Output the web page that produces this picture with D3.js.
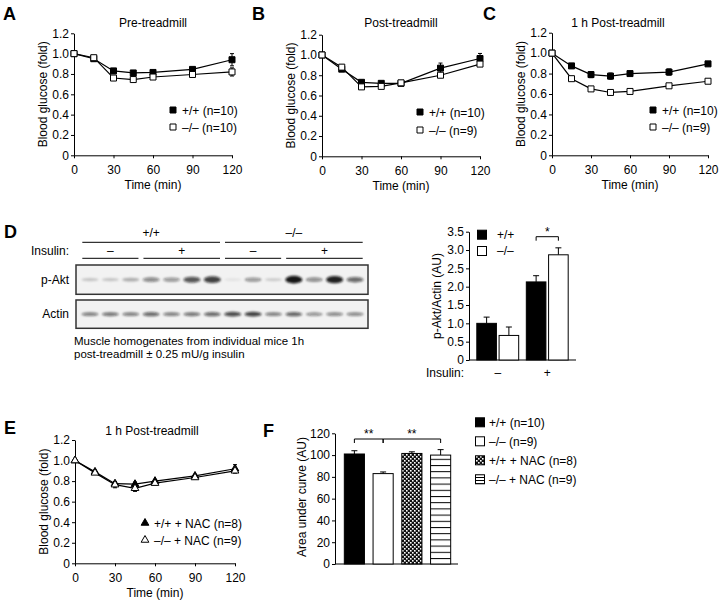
<!DOCTYPE html>
<html>
<head>
<meta charset="utf-8">
<script src="https://cdn.jsdelivr.net/npm/d3@7"></script>
<style>
body { margin: 0; background: #fff; }
svg { font-family: "Liberation Sans", Arial, sans-serif; }
</style>
</head>
<body>
<svg id="fig" width="722" height="602"></svg>
<script>
// ---- data ----
var timePoints = [0, 15, 30, 45, 60, 90, 120];
var timeTicks = [0, 30, 60, 90, 120];
var glucoseTicks = [0, 0.2, 0.4, 0.6, 0.8, 1.0, 1.2];

// A  pre-treadmill
var preWT = [1.0, 0.95, 0.83, 0.81, 0.815, 0.845, 0.94];
var preWTErr = [0.01, 0.02, 0.02, 0.02, 0.015, 0.02, 0.06];
var preKO = [1.0, 0.96, 0.76, 0.745, 0.77, 0.795, 0.82];
var preKOErr = [0.01, 0.02, 0.02, 0.02, 0.015, 0.02, 0.04];

// B  post-treadmill
var postWT = [1.0, 0.86, 0.73, 0.72, 0.72, 0.87, 0.965];
var postWTErr = [0.01, 0.02, 0.02, 0.02, 0.01, 0.05, 0.05];
var postKO = [1.0, 0.88, 0.685, 0.69, 0.725, 0.80, 0.91];
var postKOErr = [0.01, 0.02, 0.02, 0.02, 0.01, 0.015, 0.02];

// C  1 h post-treadmill
var hourWT = [1.0, 0.875, 0.79, 0.775, 0.80, 0.815, 0.895];
var hourWTErr = [0.01, 0.02, 0.03, 0.03, 0.02, 0.03, 0.015];
var hourKO = [1.0, 0.75, 0.65, 0.615, 0.625, 0.68, 0.725];
var hourKOErr = [0.01, 0.01, 0.01, 0.01, 0.01, 0.01, 0.01];

// E  1 h post-treadmill + NAC
var nacWT = [1.0, 0.89, 0.775, 0.77, 0.80, 0.85, 0.92];
var nacWTErr = [0.01, 0.015, 0.02, 0.02, 0.015, 0.015, 0.04];
var nacKO = [1.0, 0.88, 0.765, 0.73, 0.78, 0.835, 0.90];
var nacKOErr = [0.01, 0.015, 0.03, 0.03, 0.015, 0.015, 0.02];

// D  blot
var blotGenotypes = ["+/+", "–/–"];
var blotInsulin = ["–", "+", "–", "+"];
var blotLanesPerGroup = [3, 4, 3, 4];
var pAktBands = [0.15, 0.15, 0.25, 0.45, 0.38, 0.7, 0.8, 0.02, 0.38, 0.12, 1.0, 0.42, 0.95, 0.6];
var actinBands = [0.5, 0.55, 0.5, 0.6, 0.5, 0.55, 0.6, 0.75, 0.8, 0.5, 0.62, 0.4, 0.45, 0.45];

// D  quantification
var insulinGroups = ["–", "+"];
var genotypes = ["+/+", "–/–"];
var pAktMean = [[1.0, 0.67], [2.13, 2.87]];
var pAktErr = [[0.17, 0.23], [0.17, 0.19]];
var pAktTicks = [0, 0.5, 1.0, 1.5, 2.0, 2.5, 3.0, 3.5];

// F  area under curve
var aucGroups = ["+/+ (n=10)", "–/– (n=9)", "+/+ + NAC (n=8)", "–/– + NAC (n=9)"];
var aucMean = [101, 83, 101.5, 100];
var aucErr = [3, 1.5, 1.5, 5];
var aucTicks = [0, 20, 40, 60, 80, 100, 120];

var svg = d3.select("#fig");

// patterns
var defs = svg.append("defs");
var chk = defs.append("pattern").attr("id", "checker")
    .attr("patternUnits", "userSpaceOnUse").attr("width", 4).attr("height", 4);
chk.append("rect").attr("width", 4).attr("height", 4).attr("fill", "#111");
chk.append("rect").attr("x", 0).attr("y", 0).attr("width", 1.6).attr("height", 1.6).attr("fill", "#fff");
chk.append("rect").attr("x", 2).attr("y", 2).attr("width", 1.6).attr("height", 1.6).attr("fill", "#fff");

function stripePattern(id, h) {
    var p = defs.append("pattern").attr("id", id)
        .attr("patternUnits", "userSpaceOnUse").attr("width", 8).attr("height", h);
    p.append("rect").attr("width", 8).attr("height", h).attr("fill", "#fff");
    p.append("rect").attr("y", 0).attr("width", 8).attr("height", 1).attr("fill", "#000");
}
stripePattern("stripes", 6.2);
stripePattern("stripesSmall", 3);

var blur = defs.append("filter").attr("id", "blur")
    .attr("x", "-50%").attr("y", "-100%").attr("width", "200%").attr("height", "300%");
blur.append("feGaussianBlur").attr("stdDeviation", 0.9);

function styleAxis(g) {
    g.attr("font-size", 12).attr("font-family", null);
    g.selectAll("text").attr("fill", "#000");
    g.selectAll("line,path").attr("stroke", "#000");
}

function panelLetter(txt, x, y) {
    svg.append("text").attr("x", x).attr("y", y)
        .attr("font-size", 18).attr("font-weight", "bold").text(txt);
}

function drawMarker(g, type, filled, cx, cy) {
    var sym = type == "square" ? d3.symbolSquare : d3.symbolTriangle;
    var size = type == "square" ? 36 : 26;
    g.append("path")
        .attr("d", d3.symbol().type(sym).size(size)())
        .attr("transform", "translate(" + cx + "," + cy + ")")
        .attr("fill", filled ? "#000" : "#fff")
        .attr("stroke", "#000")
        .attr("stroke-width", 1);
}

// ---- glucose time course panels ----
function glucosePanel(cfg) {
    var x = d3.scaleLinear().domain([0, 120]).range([cfg.x0, cfg.x1]);
    var y = d3.scaleLinear().domain([0, 1.2]).range([cfg.y0, cfg.yTop]);
    var g = svg.append("g");

    g.append("g")
        .attr("transform", "translate(0," + cfg.y0 + ")")
        .call(d3.axisBottom(x).tickValues(timeTicks).tickSize(3).tickPadding(7).tickSizeOuter(0))
        .call(styleAxis);

    g.append("g")
        .attr("transform", "translate(" + cfg.x0 + ",0)")
        .call(d3.axisLeft(y).tickValues(glucoseTicks).tickSize(3).tickPadding(2).tickSizeOuter(0)
            .tickFormat(function(d) { return d === 0 ? "0" : d.toFixed(1); }))
        .call(styleAxis);

    g.append("text")
        .attr("transform", "translate(" + (cfg.x0 - 31) + "," + ((cfg.y0 + cfg.yTop) / 2) + ") rotate(-90)")
        .attr("text-anchor", "middle").attr("dy", "0.35em")
        .attr("font-size", 12).text("Blood glucose (fold)");

    g.append("text")
        .attr("x", (cfg.x0 + cfg.x1) / 2).attr("y", cfg.y0 + 34)
        .attr("text-anchor", "middle").attr("font-size", 12).text("Time (min)");

    g.append("text")
        .attr("x", cfg.titleX).attr("y", cfg.titleY)
        .attr("text-anchor", "middle").attr("font-size", 12).text(cfg.title);

    var line = d3.line()
        .x(function(d, i) { return x(timePoints[i]); })
        .y(function(d) { return y(d); });

    cfg.series.forEach(function(s) {
        g.append("path").datum(s.values)
            .attr("d", line).attr("fill", "none")
            .attr("stroke", "#000").attr("stroke-width", 1.2);
    });

    cfg.series.forEach(function(s) {
        s.values.forEach(function(v, i) {
            var cx = x(timePoints[i]);
            var e = s.errors[i];
            g.append("line").attr("x1", cx).attr("x2", cx)
                .attr("y1", y(v - e)).attr("y2", y(v + e)).attr("stroke", "#000");
            [v - e, v + e].forEach(function(w) {
                g.append("line").attr("x1", cx - 2).attr("x2", cx + 2)
                    .attr("y1", y(w)).attr("y2", y(w)).attr("stroke", "#000");
            });
        });
    });

    cfg.series.forEach(function(s) {
        s.values.forEach(function(v, i) {
            drawMarker(g, s.marker, s.filled, x(timePoints[i]), y(v));
        });
    });

    // legend
    cfg.series.forEach(function(s, i) {
        var ly = cfg.legendY + i * cfg.legendStep;
        drawMarker(g, s.marker, s.filled, cfg.legendX, ly);
        g.append("text").attr("x", cfg.legendX + 9).attr("y", ly + 4.5)
            .attr("font-size", 12).text(s.label);
    });
}

panelLetter("A", 3, 20);
glucosePanel({
    x0: 74, x1: 232, y0: 155.3, yTop: 33.3,
    title: "Pre-treadmill", titleX: 153, titleY: 27,
    legendX: 173, legendY: 110, legendStep: 17,
    series: [
        { values: preWT, errors: preWTErr, marker: "square", filled: true, label: "+/+ (n=10)" },
        { values: preKO, errors: preKOErr, marker: "square", filled: false, label: "–/– (n=10)" }
    ]
});

panelLetter("B", 252, 20);
glucosePanel({
    x0: 322, x1: 480, y0: 156.3, yTop: 34.7,
    title: "Post-treadmill", titleX: 401, titleY: 27,
    legendX: 420, legendY: 112, legendStep: 18,
    series: [
        { values: postWT, errors: postWTErr, marker: "square", filled: true, label: "+/+ (n=10)" },
        { values: postKO, errors: postKOErr, marker: "square", filled: false, label: "–/– (n=9)" }
    ]
});

panelLetter("C", 483, 20);
glucosePanel({
    x0: 552, x1: 708, y0: 155.3, yTop: 32.7,
    title: "1 h Post-treadmill", titleX: 618, titleY: 27,
    legendX: 653, legendY: 110, legendStep: 17,
    series: [
        { values: hourWT, errors: hourWTErr, marker: "square", filled: true, label: "+/+ (n=10)" },
        { values: hourKO, errors: hourKOErr, marker: "square", filled: false, label: "–/– (n=9)" }
    ]
});

panelLetter("E", 4, 434);
glucosePanel({
    x0: 75, x1: 235, y0: 563.3, yTop: 440,
    title: "1 h Post-treadmill", titleX: 152, titleY: 435,
    legendX: 145, legendY: 523, legendStep: 17,
    series: [
        { values: nacWT, errors: nacWTErr, marker: "triangle", filled: true, label: "+/+ + NAC (n=8)" },
        { values: nacKO, errors: nacKOErr, marker: "triangle", filled: false, label: "–/– + NAC (n=9)" }
    ]
});

// ---- D: western blot ----
panelLetter("D", 4, 238);
var laneX = d3.scalePoint().domain(d3.range(14)).range([90, 355]);
var halfStep = laneX.step() / 2 - 2.5;
var blot = svg.append("g");

var start = 0;
var groupSpans = blotLanesPerGroup.map(function(n) {
    var span = [laneX(start) - halfStep, laneX(start + n - 1) + halfStep];
    start += n;
    return span;
});

blotInsulin.forEach(function(lbl, i) {
    var s = groupSpans[i];
    blot.append("line").attr("x1", s[0]).attr("x2", s[1]).attr("y1", 258.3).attr("y2", 258.3)
        .attr("stroke", "#000").attr("stroke-width", 1);
    blot.append("text").attr("x", (s[0] + s[1]) / 2).attr("y", 255)
        .attr("text-anchor", "middle").attr("font-size", 12).text(lbl);
});
blotGenotypes.forEach(function(lbl, i) {
    var a = groupSpans[i * 2][0], b = groupSpans[i * 2 + 1][1];
    blot.append("line").attr("x1", a).attr("x2", b).attr("y1", 242.3).attr("y2", 242.3)
        .attr("stroke", "#000").attr("stroke-width", 1);
    blot.append("text").attr("x", (a + b) / 2).attr("y", 237)
        .attr("text-anchor", "middle").attr("font-size", 12).text(lbl);
});
blot.append("text").attr("x", 69).attr("y", 255).attr("text-anchor", "end")
    .attr("font-size", 12).text("Insulin:");

function blotStrip(label, y0, y1, bands, thick) {
    blot.append("rect").attr("x", 76).attr("y", y0).attr("width", 292).attr("height", y1 - y0)
        .attr("fill", "#f2f2f2").attr("stroke", "#333").attr("stroke-width", 1.5);
    var cy = (y0 + y1) / 2;
    blot.append("g").attr("filter", "url(#blur)")
        .selectAll("ellipse").data(bands).enter().append("ellipse")
        .attr("cx", function(d, i) { return laneX(i); })
        .attr("cy", cy)
        .attr("rx", 8.5)
        .attr("ry", function(d) { return 1.2 + thick * d; })
        .attr("fill", "#111")
        .attr("fill-opacity", function(d) { return 0.06 + 0.9 * d; });
    blot.append("text").attr("x", 69).attr("y", cy + 4).attr("text-anchor", "end")
        .attr("font-size", 12).text(label);
}
blotStrip("p-Akt", 265, 294.3, pAktBands, 2.6);
blotStrip("Actin", 300, 328.3, actinBands, 1.5);

blot.append("text").attr("x", 74).attr("y", 345).attr("font-size", 11.5)
    .text("Muscle homogenates from individual mice 1h");
blot.append("text").attr("x", 74).attr("y", 358).attr("font-size", 11.5)
    .text("post-treadmill ± 0.25 mU/g insulin");

// ---- D: quantification bars ----
var dg = svg.append("g");
var dY = d3.scaleLinear().domain([0, 3.5]).range([360, 231.7]);
var dX = d3.scaleBand().domain(insulinGroups).range([473, 572]).paddingInner(0.1).paddingOuter(0.05);
var dX1 = d3.scaleBand().domain(genotypes).range([0, dX.bandwidth()]).paddingInner(0.12).paddingOuter(0.06);

dg.append("g").attr("transform", "translate(469,0)")
    .call(d3.axisLeft(dY).tickValues(pAktTicks).tickSize(3).tickPadding(2).tickSizeOuter(0)
        .tickFormat(function(d) { return d === 0 ? "0" : d.toFixed(1); }))
    .call(styleAxis);
dg.append("line").attr("x1", 469).attr("x2", 576).attr("y1", 360).attr("y2", 360).attr("stroke", "#000");

insulinGroups.forEach(function(grp, gi) {
    genotypes.forEach(function(gt, j) {
        var bx = dX(grp) + dX1(gt), bw = dX1.bandwidth();
        var m = pAktMean[gi][j], e = pAktErr[gi][j];
        var cx = bx + bw / 2;
        dg.append("line").attr("x1", cx).attr("x2", cx).attr("y1", dY(m)).attr("y2", dY(m + e)).attr("stroke", "#000");
        dg.append("line").attr("x1", cx - 3).attr("x2", cx + 3).attr("y1", dY(m + e)).attr("y2", dY(m + e)).attr("stroke", "#000");
        dg.append("rect").attr("x", bx).attr("y", dY(m)).attr("width", bw).attr("height", dY(0) - dY(m))
            .attr("fill", j == 0 ? "#000" : "#fff").attr("stroke", "#000").attr("stroke-width", 1);
    });
    dg.append("text").attr("x", dX(grp) + dX.bandwidth() / 2).attr("y", 377)
        .attr("text-anchor", "middle").attr("font-size", 12).text(grp);
});
dg.append("text").attr("x", 464).attr("y", 377).attr("text-anchor", "end").attr("font-size", 12).text("Insulin:");
dg.append("text")
    .attr("transform", "translate(437,296) rotate(-90)")
    .attr("text-anchor", "middle").attr("dy", "0.35em").attr("font-size", 12).text("p-Akt/Actin (AU)");

genotypes.forEach(function(gt, j) {
    var ly = 234.7 + j * 16.3;
    dg.append("rect").attr("x", 477.5).attr("y", ly - 4.5).attr("width", 9).attr("height", 9)
        .attr("fill", j == 0 ? "#000" : "#fff").attr("stroke", "#000");
    dg.append("text").attr("x", 497).attr("y", ly + 4).attr("font-size", 12).text(gt);
});

function bracket(g, xa, xb, y, label) {
    g.append("path").attr("d", "M" + xa + "," + (y + 4) + "V" + y + "H" + xb + "V" + (y + 4))
        .attr("fill", "none").attr("stroke", "#000");
    if (label) {
        g.append("text").attr("x", (xa + xb) / 2).attr("y", y - 1)
            .attr("text-anchor", "middle").attr("font-size", 12).text(label);
    }
}
var cPlusWT = dX("+") + dX1("+/+") + dX1.bandwidth() / 2;
var cPlusKO = dX("+") + dX1("–/–") + dX1.bandwidth() / 2;
bracket(dg, cPlusWT, cPlusKO, 236.7, "*");

// ---- F: area under curve ----
panelLetter("F", 263, 437);
var fg = svg.append("g");
var fY = d3.scaleLinear().domain([0, 120]).range([564, 433.3]);
var fX = d3.scaleBand().domain(aucGroups).range([340, 455]).paddingInner(0.3).paddingOuter(0.15);
var aucFills = ["#000", "#fff", "url(#checker)", "url(#stripes)"];
var aucLegendFills = ["#000", "#fff", "url(#checker)", "url(#stripesSmall)"];

fg.append("g").attr("transform", "translate(335,0)")
    .call(d3.axisLeft(fY).tickValues(aucTicks).tickSize(3).tickPadding(2).tickSizeOuter(0))
    .call(styleAxis);
fg.append("line").attr("x1", 335).attr("x2", 458).attr("y1", 564).attr("y2", 564).attr("stroke", "#000");

aucGroups.forEach(function(grp, i) {
    var bx = fX(grp), bw = fX.bandwidth(), cx = bx + bw / 2;
    var m = aucMean[i], e = aucErr[i];
    fg.append("line").attr("x1", cx).attr("x2", cx).attr("y1", fY(m)).attr("y2", fY(m + e)).attr("stroke", "#000");
    fg.append("line").attr("x1", cx - 3).attr("x2", cx + 3).attr("y1", fY(m + e)).attr("y2", fY(m + e)).attr("stroke", "#000");
    fg.append("rect").attr("x", bx).attr("y", fY(m)).attr("width", bw).attr("height", fY(0) - fY(m))
        .attr("fill", aucFills[i]).attr("stroke", "#000").attr("stroke-width", 1);
});

var fc = aucGroups.map(function(grp) { return fX(grp) + fX.bandwidth() / 2; });
bracket(fg, fc[0], fc[1], 439, "**");
bracket(fg, fc[1], fc[3], 439, "**");

fg.append("text")
    .attr("transform", "translate(302,497) rotate(-90)")
    .attr("text-anchor", "middle").attr("dy", "0.35em").attr("font-size", 12).text("Area under curve (AU)");

aucGroups.forEach(function(grp, i) {
    var ly = 422.3 + i * 19;
    fg.append("rect").attr("x", 475.5).attr("y", ly - 4.5).attr("width", 9).attr("height", 9)
        .attr("fill", aucLegendFills[i]).attr("stroke", "#000");
    fg.append("text").attr("x", 489).attr("y", ly + 4.5).attr("font-size", 12).text(grp);
});
</script>
</body>
</html>
